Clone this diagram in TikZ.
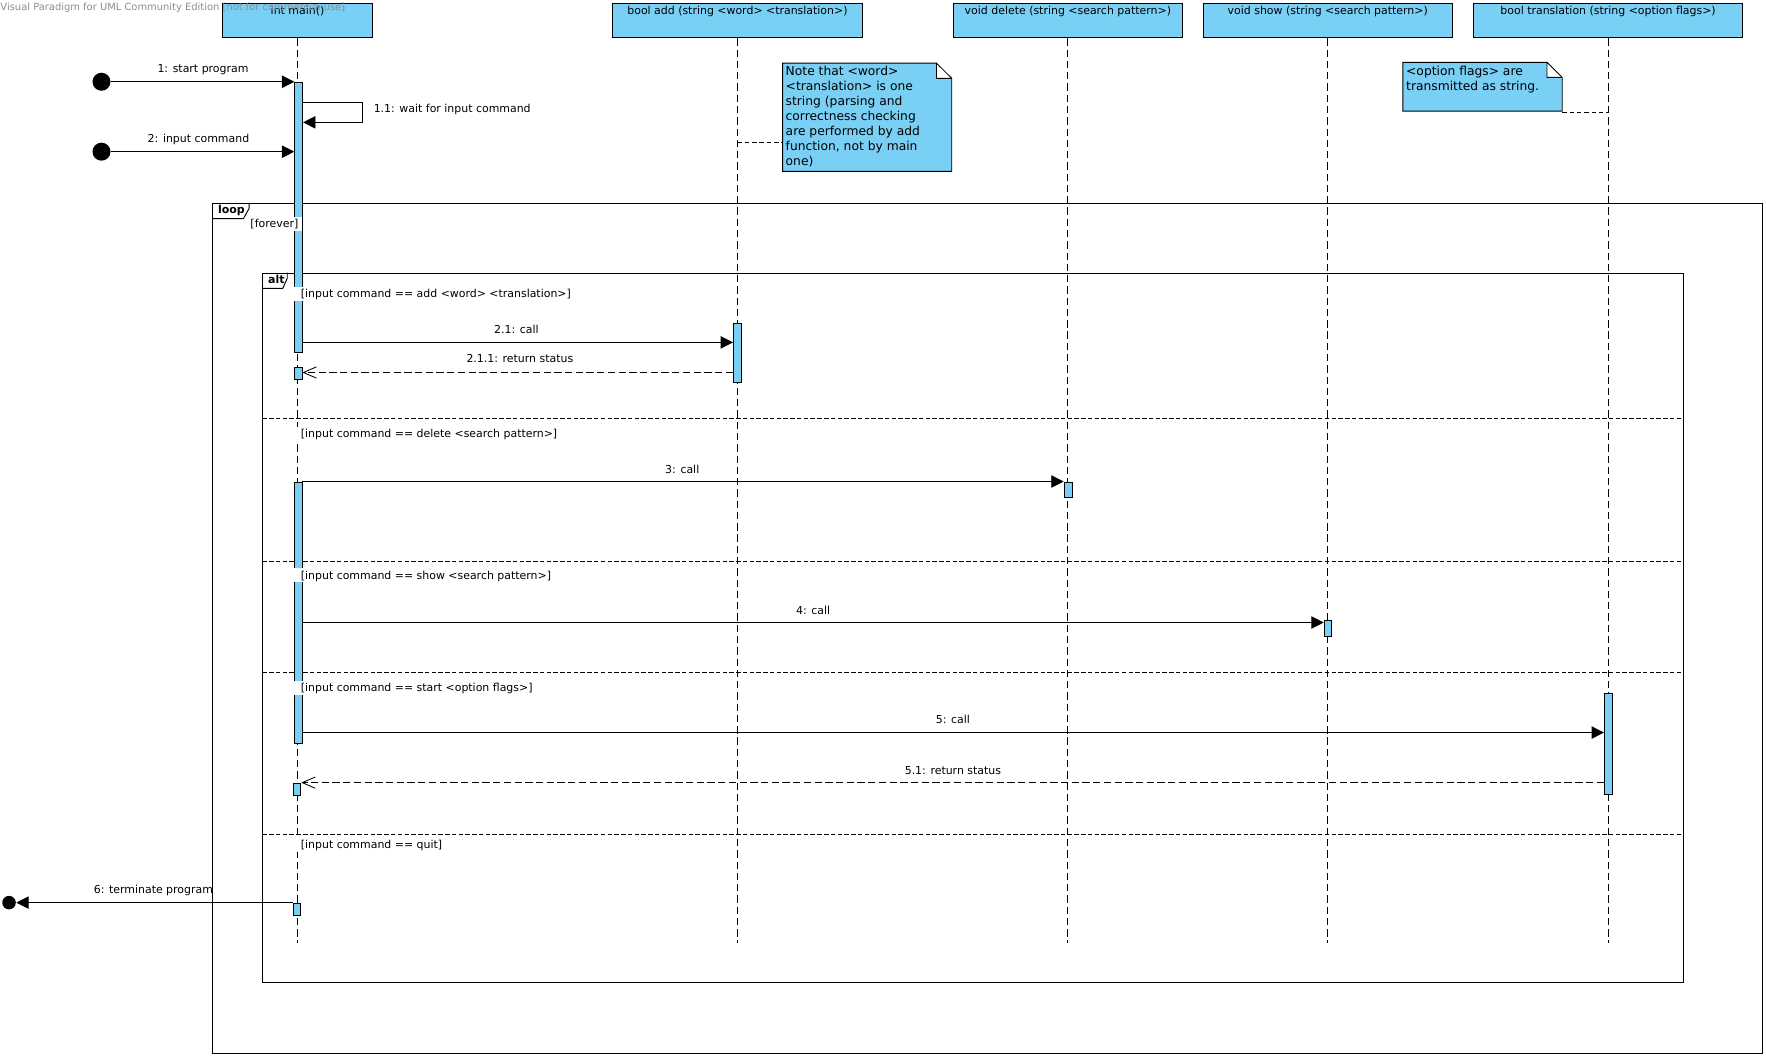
\documentclass[tikz,border=0pt]{standalone}
\usepackage{fontspec}
\setmainfont{DejaVu Sans}
\usetikzlibrary{arrows.meta,calc}
\definecolor{vpblue}{RGB}{122,207,245}
\newcommand\dgfont{\fontsize{9.7pt}{11.6pt}\selectfont}
\newcommand\dgnotefont{\fontsize{10.9pt}{13.3pt}\selectfont}
\newcommand\dgwmfont{\fontsize{8.8pt}{10pt}\selectfont}
\begin{document}
\begin{tikzpicture}[x=1pt,y=-1pt,line width=0.85pt,
  head/.style={draw,fill=vpblue,anchor=north west,inner sep=0,minimum height=30.7pt},
  actbar/.style={draw,fill=vpblue,anchor=north west,inner sep=0,minimum width=7pt,line width=0.75pt},
  lifeline/.style={dash pattern=on 6.5pt off 3.5pt,line width=0.75pt},
  txt/.style={font=\dgfont,inner sep=0,anchor=base},
  msg/.style={-{Triangle[length=11pt,width=11pt]}},
  ret/.style={dash pattern=on 6.5pt off 3pt,-{Straight Barb[length=11.5pt,width=10pt,line width=0.75pt]}},
  sepline/.style={dash pattern=on 4pt off 2pt,line width=0.75pt},
  guard/.style={font=\dgfont,fill=white,inner xsep=0pt,inner ysep=0pt,anchor=base west,text depth=3pt,text height=9.5pt},
  frame/.style={draw,anchor=north west,inner sep=0},
  startdot/.style={circle,fill=black,inner sep=0,minimum size=16pt},
  notetext/.style={font=\dgnotefont,inner sep=0,anchor=base west,align=left},
  noteconn/.style={dash pattern=on 4pt off 2.5pt,line width=0.75pt}
]
\useasboundingbox (0,0) rectangle (1566,936.4);

% ---------- lifeline heads ----------
\node[head,minimum width=132.4pt] (hmain) at (197.2,2.4) {};
\node[head,minimum width=221pt]   (hadd)  at (543,2.4) {};
\node[head,minimum width=203pt]   (hdel)  at (845,2.4) {};
\node[head,minimum width=220.5pt] (hshow) at (1066.7,2.4) {};
\node[head,minimum width=238.6pt] (htr)   at (1306.2,2.4) {};

\node[txt] (tmain) at ($(hmain.north)+(0,10.5)$) {int main()};
\node[txt] (tadd)  at ($(hadd.north)+(0,10.5)$)  {bool add (string <word> <translation>)};
\node[txt] (tdel)  at ($(hdel.north)+(0,10.5)$)  {void delete (string <search pattern>)};
\node[txt] (tshow) at ($(hshow.north)+(0,10.5)$) {void show (string <search pattern>)};
\node[txt] (ttr)   at ($(htr.north)+(0,10.5)$)   {bool translation (string <option flags>)};

% ---------- lifelines ----------
\coordinate (lend) at (0,835.9);
\draw[lifeline] (hmain.south) -- (hmain.south |- lend);
\draw[lifeline] (hadd.south) -- (hadd.south |- lend);
\draw[lifeline] (hdel.south) -- (hdel.south |- lend);
\draw[lifeline] (hshow.south) -- (hshow.south |- lend);
\draw[lifeline] (htr.south) -- (htr.south |- lend);

% ---------- combined fragments ----------
\node[frame,minimum width=1374.2pt,minimum height=753.5pt] (loopf) at (188.4,179.8) {};
\draw (loopf.north west) ++(32.5,0) -- ++(0,5) -- ++(-5,9) -- ++(-27.5,0);
\node[font=\dgfont\bfseries,inner sep=0,anchor=base west] (looplbl) at ($(loopf.north west)+(4.6,9.7)$) {loop};

\node[frame,minimum width=1259.4pt,minimum height=629.2pt] (altf) at (232.7,241.8) {};
\draw (altf.north west) ++(22,0) -- ++(0,5) -- ++(-4,9) -- ++(-18,0);
\node[font=\dgfont\bfseries,inner sep=0,anchor=base west] (altlbl) at ($(altf.north west)+(4.7,9.5)$) {alt};

\draw[sepline] (altf.west |- 0,371)   -- (altf.east |- 0,371);
\draw[sepline] (altf.west |- 0,497.9) -- (altf.east |- 0,497.9);
\draw[sepline] (altf.west |- 0,596.4) -- (altf.east |- 0,596.4);
\draw[sepline] (altf.west |- 0,739.9) -- (altf.east |- 0,739.9);

% ---------- activation bars ----------
\node[actbar,minimum height=239.5pt] (bm1) at (261,73) {};
\node[actbar,minimum height=10.6pt] (bm2) at (260.4,325.8) {};
\node[actbar,minimum height=230.7pt] (bm3) at (260.4,427.8) {};
\node[actbar,minimum height=10.6pt] (bm4) at (259.4,694) {};
\node[actbar,minimum height=10.6pt] (bm5) at (259.4,800.4) {};
\node[actbar,minimum height=53pt] (badd) at (650,286) {};
\node[actbar,minimum height=13.4pt] (bdel) at (943.2,427.6) {};
\node[actbar,minimum height=14.2pt,minimum width=6.3pt] (bshow) at (1173.8,549.4) {};
\node[actbar,minimum height=89.6pt] (btr) at (1422.3,614.1) {};

% ---------- guards ----------
\node[guard,inner xsep=3pt] (gfor) at (218.7,201.5) {[forever]\hspace{1pt}};
\node[guard] (gadd) at (258,264) {\hspace{8.4pt}[input command == add <word> <translation>]\hspace{2pt}};
\node[guard] (gdel) at (258,388) {\hspace{8.4pt}[input command == delete <search pattern>]\hspace{2pt}};
\node[guard] (gshow) at (258,513.5) {\hspace{8.4pt}[input command == show <search pattern>]\hspace{2pt}};
\node[guard] (gstart) at (258,613) {\hspace{8.4pt}[input command == start <option flags>]\hspace{2pt}};
\node[guard] (gquit) at (258,752.5) {\hspace{8.4pt}[input command == quit]\hspace{2pt}};

% ---------- notes ----------
\fill[vpblue] (694,56) -- (830.4,56) -- (844,69.5) -- (844,152) -- (694,152) -- cycle;
\fill[white] (830.4,56) -- (830.4,69.5) -- (844,69.5) -- cycle;
\draw[line width=0.75pt] (830.4,56) -- (694,56) -- (694,152) -- (844,152) -- (844,69.5) -- (830.4,56) -- (830.4,69.5) -- (844,69.5);
\coordinate (note1) at (694,126.3);
\node[notetext] (n1t) at (696.3,147.1) {Note that <word>\\<translation> is one\\string (parsing and\\correctness checking\\are performed by add\\function, not by main\\one)};
\draw[noteconn] (hadd.south |- note1) -- (note1);

\fill[vpblue] (1244,55.3) -- (1371.8,55.3) -- (1385.3,68.6) -- (1385.3,98.5) -- (1244,98.5) -- cycle;
\fill[white] (1371.8,55.3) -- (1371.8,68.6) -- (1385.3,68.6) -- cycle;
\draw[line width=0.75pt] (1371.8,55.3) -- (1244,55.3) -- (1244,98.5) -- (1385.3,98.5) -- (1385.3,68.6) -- (1371.8,55.3) -- (1371.8,68.6) -- (1385.3,68.6);
\coordinate (note2) at (1385.3,99.6);
\node[notetext] (n2t) at (1246.5,80.6) {<option flags> are\\transmitted as string.};
\draw[noteconn] (note2) -- (htr.south |- note2);

% ---------- messages ----------
\node[startdot] (s1) at (90,72.5) {};
\node[startdot] (s2) at (90,134.5) {};
\node[circle,fill=black,inner sep=0,minimum size=12pt] (e1) at (8,800.4) {};

\draw[msg] (s1) -- (s1 -| bm1.west);
\node[txt] (l1) at (180,64.5) {1: start program};

\draw[msg] (bm1.east |- 0,90.8) -- (321.5,90.8) -- (321.5,108.5) -- (bm1.east |- 0,108.5);
\node[txt,anchor=base west] (l11) at (331,99.5) {1.1: wait for input command};

\draw[msg] (s2) -- (s2 -| bm1.west);
\node[txt] (l2) at (176,126.5) {2: input command};

\draw[msg] (bm1.east |- 0,303.6) -- (badd.west |- 0,303.6);
\node[txt] (l21) at (458,295.6) {2.1: call};

\draw[ret] (badd.west |- 0,330.3) -- (bm2.east |- 0,330.3);
\node[txt] (l211) at (461,321.8) {2.1.1: return status};

\draw[msg] (bm3.east |- 0,427) -- (bdel.west |- 0,427);
\node[txt] (l3) at (605,419.5) {3: call};

\draw[msg] (bm3.east |- 0,552) -- (bshow.west |- 0,552);
\node[txt] (l4) at (721,544.5) {4: call};

\draw[msg] (bm3.east |- 0,649.6) -- (btr.west |- 0,649.6);
\node[txt] (l5) at (845,641.5) {5: call};

\draw[ret] (btr.west |- 0,694) -- (bm4.east |- 0,694);
\node[txt] (l51) at (845,686.5) {5.1: return status};

\draw[msg] (bm5.west |- e1) -- (e1.east);
\node[txt] (l6) at (136,792) {6: terminate program};

% ---------- watermark ----------
\node[font=\dgwmfont,text=black!45,inner sep=0,anchor=base west] (wm) at (0,9.3) {Visual Paradigm for UML Community Edition [not for commercial use]};
\end{tikzpicture}
\end{document}
